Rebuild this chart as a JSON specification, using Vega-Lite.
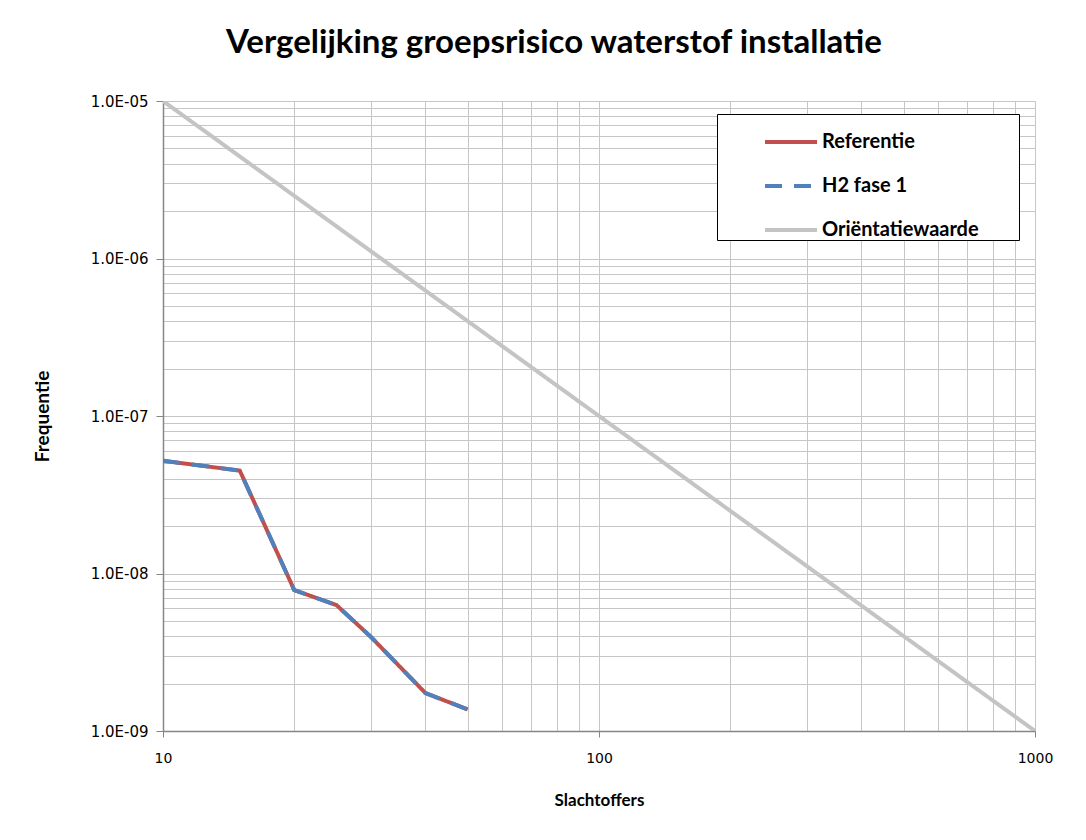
{
  "$schema": "https://vega.github.io/schema/vega-lite/v6.json",
  "autosize": "none",
  "width": 872,
  "height": 630,
  "padding": {"left": 163, "top": 101, "right": 51, "bottom": 109},
  "background": "white",
  "title": {
    "text": "Vergelijking groepsrisico waterstof installatie",
    "font": "Lato",
    "fontSize": 33,
    "fontWeight": "bold",
    "color": "black",
    "anchor": "middle",
    "dx": -45,
    "offset": 34
  },
  "data": {
    "values": [
      {"serie": "Referentie", "slachtoffers": 10, "frequentie": 5.2e-8},
      {"serie": "Referentie", "slachtoffers": 15, "frequentie": 4.5e-8},
      {"serie": "Referentie", "slachtoffers": 20, "frequentie": 7.85e-9},
      {"serie": "Referentie", "slachtoffers": 25, "frequentie": 6.3e-9},
      {"serie": "Referentie", "slachtoffers": 30, "frequentie": 3.95e-9},
      {"serie": "Referentie", "slachtoffers": 40, "frequentie": 1.74e-9},
      {"serie": "Referentie", "slachtoffers": 50, "frequentie": 1.37e-9},
      {"serie": "H2 fase 1", "slachtoffers": 10, "frequentie": 5.2e-8},
      {"serie": "H2 fase 1", "slachtoffers": 15, "frequentie": 4.5e-8},
      {"serie": "H2 fase 1", "slachtoffers": 20, "frequentie": 7.85e-9},
      {"serie": "H2 fase 1", "slachtoffers": 25, "frequentie": 6.3e-9},
      {"serie": "H2 fase 1", "slachtoffers": 30, "frequentie": 3.95e-9},
      {"serie": "H2 fase 1", "slachtoffers": 40, "frequentie": 1.74e-9},
      {"serie": "H2 fase 1", "slachtoffers": 50, "frequentie": 1.37e-9},
      {"serie": "Oriëntatiewaarde", "slachtoffers": 10, "frequentie": 1e-5},
      {"serie": "Oriëntatiewaarde", "slachtoffers": 1000, "frequentie": 1e-9}
    ]
  },
  "mark": {"type": "line", "strokeWidth": 4, "clip": true},
  "encoding": {
    "x": {
      "field": "slachtoffers",
      "type": "quantitative",
      "scale": {"type": "log", "domain": [10, 1000], "nice": false},
      "axis": {
        "title": "Slachtoffers",
        "titleFont": "Lato",
        "titleFontSize": 17,
        "titleFontWeight": "bold",
        "titleColor": "black",
        "titlePadding": 27,
        "values": [10, 20, 30, 40, 50, 60, 70, 80, 90, 100, 200, 300, 400, 500, 600, 700, 800, 900, 1000],
        "labelExpr": "abs(log(datum.value)/LN10 - round(log(datum.value)/LN10)) < 0.001 ? format(datum.value, 'd') : ''",
        "labelFont": "DejaVu Sans",
        "labelFontSize": 14,
        "labelColor": "black",
        "labelPadding": 14,
        "labelFlush": false,
        "labelOverlap": false,
        "grid": true,
        "gridColor": "#C6C6C6",
        "gridWidth": 1,
        "domainColor": "#868686",
        "domainWidth": 1.5,
        "tickColor": "#868686",
        "tickSize": 6,
        "tickOpacity": {"condition": {"test": "abs(log(datum.value)/LN10 - round(log(datum.value)/LN10)) < 0.001", "value": 1}, "value": 0}
      }
    },
    "y": {
      "field": "frequentie",
      "type": "quantitative",
      "scale": {"type": "log", "domain": [1e-9, 1e-5], "nice": false},
      "axis": {
        "title": "Frequentie",
        "titleFont": "Lato",
        "titleFontSize": 19,
        "titleFontWeight": "bold",
        "titleColor": "black",
        "titlePadding": 38,
        "values": [1e-9, 2e-9, 3e-9, 4e-9, 5e-9, 6e-9, 7e-9, 8e-9, 9e-9, 1e-8, 2e-8, 3e-8, 4e-8, 5e-8, 6e-8, 7e-8, 8e-8, 9e-8, 1e-7, 2e-7, 3e-7, 4e-7, 5e-7, 6e-7, 7e-7, 8e-7, 9e-7, 1e-6, 2e-6, 3e-6, 4e-6, 5e-6, 6e-6, 7e-6, 8e-6, 9e-6, 1e-5],
        "labelExpr": "abs(log(datum.value)/LN10 - round(log(datum.value)/LN10)) < 0.001 ? '1.0E-0' + abs(round(log(datum.value)/LN10)) : ''",
        "labelFont": "DejaVu Sans",
        "labelFontSize": 15,
        "labelColor": "black",
        "labelPadding": 8,
        "labelOverlap": false,
        "labelFlush": false,
        "grid": true,
        "gridColor": "#C6C6C6",
        "gridWidth": 1,
        "domainColor": "#868686",
        "domainWidth": 1.5,
        "tickColor": "#868686",
        "tickSize": 7,
        "tickOpacity": {"condition": {"test": "abs(log(datum.value)/LN10 - round(log(datum.value)/LN10)) < 0.001", "value": 1}, "value": 0}
      }
    },
    "color": {
      "field": "serie",
      "type": "nominal",
      "scale": {
        "domain": ["Referentie", "H2 fase 1", "Oriëntatiewaarde"],
        "range": ["#C0504D", "#4F81BD", "#C4C4C4"]
      },
      "legend": {
        "title": " ",
        "titleOrient": "right",
        "titlePadding": 40,
        "orient": "none",
        "legendX": 554,
        "legendY": 13,
        "fillColor": "white",
        "strokeColor": "black",
        "padding": 0,
        "symbolOffset": 46,
        "symbolType": "stroke",
        "symbolStrokeWidth": 4,
        "symbolSize": 2700,
        "labelFont": "Lato",
        "labelFontSize": 20,
        "labelFontWeight": "bold",
        "labelColor": "black",
        "labelOffset": 3,
        "rowPadding": 6,
        "labelLimit": 300
      }
    },
    "strokeDash": {
      "field": "serie",
      "type": "nominal",
      "scale": {
        "domain": ["Referentie", "H2 fase 1", "Oriëntatiewaarde"],
        "range": [[1, 0], [17, 12], [1, 0]]
      },
      "legend": null
    },
    "order": {"field": "serie", "sort": "descending"}
  }
}
